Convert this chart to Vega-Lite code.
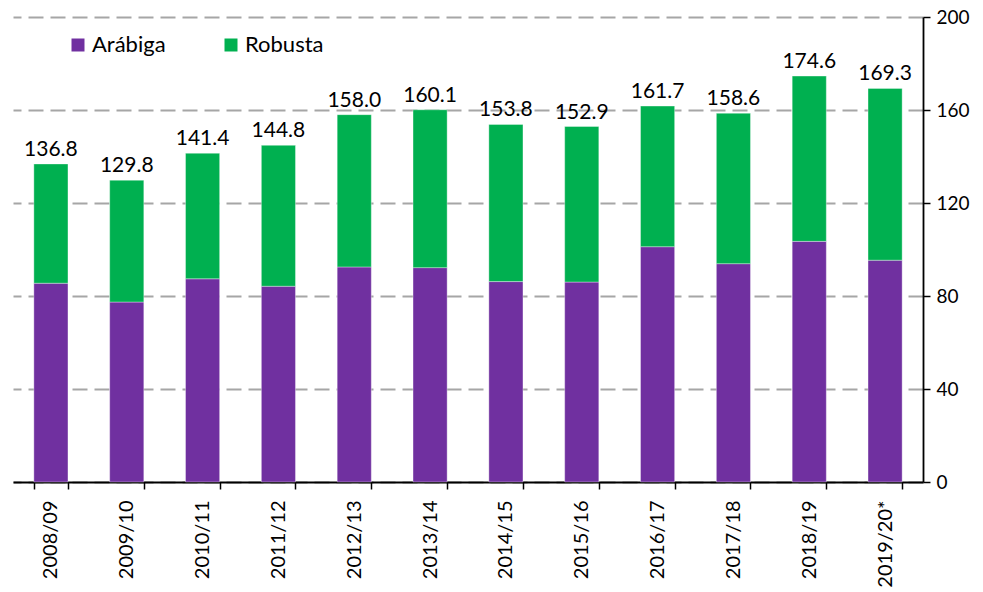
{
  "$schema": "https://vega.github.io/schema/vega-lite/v6.json",
  "width": 910,
  "height": 465,
  "autosize": {"type": "none"},
  "padding": {"left": 13, "top": 17, "right": 60, "bottom": 110},
  "background": "white",
  "config": {
    "view": {"stroke": null},
    "font": "Lato",
    "axis": {"labelFont": "Lato", "labelColor": "black"},
    "legend": {"labelFont": "Lato"}
  },
  "datasets": {
    "bars": [
      {"season": "2008/09", "type": "Arábiga", "ord": 1, "value": 85.5},
      {"season": "2008/09", "type": "Robusta", "ord": 2, "value": 51.3},
      {"season": "2009/10", "type": "Arábiga", "ord": 1, "value": 77.4},
      {"season": "2009/10", "type": "Robusta", "ord": 2, "value": 52.4},
      {"season": "2010/11", "type": "Arábiga", "ord": 1, "value": 87.4},
      {"season": "2010/11", "type": "Robusta", "ord": 2, "value": 54.0},
      {"season": "2011/12", "type": "Arábiga", "ord": 1, "value": 84.2},
      {"season": "2011/12", "type": "Robusta", "ord": 2, "value": 60.6},
      {"season": "2012/13", "type": "Arábiga", "ord": 1, "value": 92.5},
      {"season": "2012/13", "type": "Robusta", "ord": 2, "value": 65.5},
      {"season": "2013/14", "type": "Arábiga", "ord": 1, "value": 92.2},
      {"season": "2013/14", "type": "Robusta", "ord": 2, "value": 67.9},
      {"season": "2014/15", "type": "Arábiga", "ord": 1, "value": 86.2},
      {"season": "2014/15", "type": "Robusta", "ord": 2, "value": 67.6},
      {"season": "2015/16", "type": "Arábiga", "ord": 1, "value": 86.0},
      {"season": "2015/16", "type": "Robusta", "ord": 2, "value": 66.9},
      {"season": "2016/17", "type": "Arábiga", "ord": 1, "value": 101.2},
      {"season": "2016/17", "type": "Robusta", "ord": 2, "value": 60.5},
      {"season": "2017/18", "type": "Arábiga", "ord": 1, "value": 93.9},
      {"season": "2017/18", "type": "Robusta", "ord": 2, "value": 64.7},
      {"season": "2018/19", "type": "Arábiga", "ord": 1, "value": 103.5},
      {"season": "2018/19", "type": "Robusta", "ord": 2, "value": 71.1},
      {"season": "2019/20*", "type": "Arábiga", "ord": 1, "value": 95.4},
      {"season": "2019/20*", "type": "Robusta", "ord": 2, "value": 73.9}
    ],
    "totals": [
      {"season": "2008/09", "total": 136.8},
      {"season": "2009/10", "total": 129.8},
      {"season": "2010/11", "total": 141.4},
      {"season": "2011/12", "total": 144.8},
      {"season": "2012/13", "total": 158.0},
      {"season": "2013/14", "total": 160.1},
      {"season": "2014/15", "total": 153.8},
      {"season": "2015/16", "total": 152.9},
      {"season": "2016/17", "total": 161.7},
      {"season": "2017/18", "total": 158.6},
      {"season": "2018/19", "total": 174.6},
      {"season": "2019/20*", "total": 169.3}
    ]
  },
  "layer": [
    {
      "data": {"name": "bars"},
      "mark": {"type": "bar", "stroke": "white", "strokeWidth": 0.6, "strokeOpacity": 0.6},
      "encoding": {
        "x": {
          "field": "season", "type": "nominal", "sort": null,
          "scale": {"paddingInner": 0.55, "paddingOuter": 0.275},
          "axis": {
            "title": null, "orient": "bottom", "labelAngle": 270, "labelAlign": "right", "labelBaseline": "middle",
            "labelFontSize": 20, "labelPadding": 11, "domainColor": "black", "domainWidth": 1.8,
            "tickColor": "black", "tickWidth": 1.5, "tickSize": 7, "tickBand": "extent"
          }
        },
        "y": {
          "field": "value", "type": "quantitative", "stack": "zero",
          "scale": {"domain": [0, 200], "nice": false},
          "axis": {
            "title": null, "orient": "right", "values": [0, 40, 80, 120, 160, 200],
            "grid": true, "gridColor": "#A6A6A6", "gridWidth": 2, "gridDash": [15, 7],
            "labelFontSize": 19, "labelPadding": 6, "domainColor": "black", "domainWidth": 1.8,
            "tickColor": "black", "tickWidth": 1.5, "tickSize": 7
          }
        },
        "color": {
          "field": "type", "type": "nominal",
          "scale": {"domain": ["Arábiga", "Robusta"], "range": ["#7030A0", "#00B050"]},
          "legend": {
            "title": null, "orient": "none", "legendX": 54, "legendY": 17, "direction": "horizontal",
            "symbolType": "square", "symbolSize": 169, "symbolStrokeWidth": 0, "labelFontSize": 22,
            "columnPadding": 54, "labelOffset": 3, "padding": 0
          }
        },
        "order": {"field": "ord", "type": "quantitative"}
      }
    },
    {
      "data": {"name": "totals"},
      "mark": {"type": "text", "fontSize": 21, "baseline": "alphabetic", "dy": -8, "color": "black"},
      "encoding": {
        "x": {"field": "season", "type": "nominal", "sort": null},
        "y": {"field": "total", "type": "quantitative"},
        "text": {"field": "total", "type": "quantitative", "format": ".1f"}
      }
    }
  ]
}
